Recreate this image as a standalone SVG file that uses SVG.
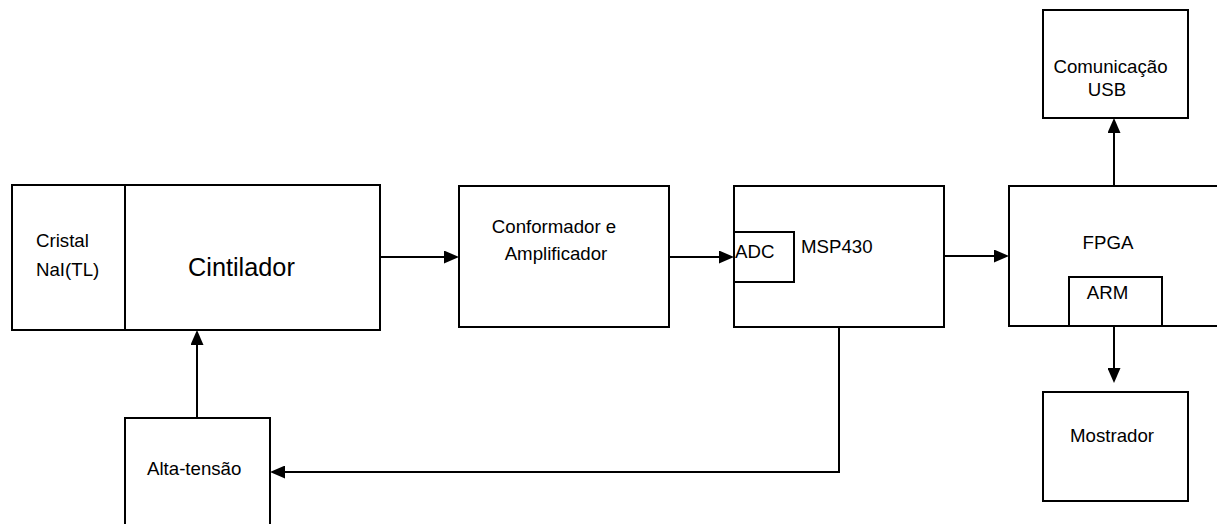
<svg xmlns="http://www.w3.org/2000/svg" width="1217" height="524" viewBox="0 0 1217 524">
<style>
.box{fill:#fff;stroke:#000;stroke-width:2}
.t{font-family:"Liberation Sans",Arial,sans-serif;font-size:18.67px;fill:#000}
.big{font-size:25.3px}
.c{stroke:#000;stroke-width:2;fill:none}
</style>
<defs>
<marker id="arr" viewBox="0 0 15 13" refX="7" refY="6.5" markerWidth="15" markerHeight="13" markerUnits="userSpaceOnUse" orient="auto">
<path d="M0,0 L15,6.5 L0,13 z" fill="#000"/>
</marker>
</defs>
<rect width="1217" height="524" fill="#fff"/>
<g id="cintilador">
<rect class="box" x="12" y="185" width="368" height="145"/>
<line class="c" x1="125" y1="185" x2="125" y2="330"/>
<text class="t" x="36" y="247">Cristal</text>
<text class="t" x="36" y="276">NaI(TL)</text>
<text class="t big" x="188" y="276">Cintilador</text>
</g>
<g id="conformador">
<rect class="box" x="459" y="186" width="210" height="141"/>
<text class="t" x="554" y="233" text-anchor="middle">Conformador e</text>
<text class="t" x="556" y="260" text-anchor="middle">Amplificador</text>
</g>
<g id="msp430">
<rect class="box" x="734" y="186" width="210" height="141"/>
<rect class="box" x="734" y="232" width="60" height="50"/>
<text class="t" x="735" y="258">ADC</text>
<text class="t" x="801" y="253">MSP430</text>
</g>
<g id="fpga">
<rect class="box" x="1009" y="186" width="230" height="140"/>
<rect class="box" x="1069" y="277" width="93" height="49"/>
<text class="t" x="1108" y="249" text-anchor="middle">FPGA</text>
<text class="t" x="1107.5" y="299" text-anchor="middle">ARM</text>
</g>
<g id="usb">
<rect class="box" x="1043" y="10" width="145" height="108"/>
<text class="t" x="1110.5" y="73" text-anchor="middle">Comunicação</text>
<text class="t" x="1107" y="96" text-anchor="middle">USB</text>
</g>
<g id="mostrador">
<rect class="box" x="1043" y="392" width="145" height="109"/>
<text class="t" x="1112" y="442" text-anchor="middle">Mostrador</text>
</g>
<g id="altatensao">
<rect class="box" x="125" y="418" width="145" height="120"/>
<text class="t" x="147" y="475">Alta-tensão</text>
</g>
<g id="connectors">
<line class="c" x1="380" y1="257" x2="451" y2="257" marker-end="url(#arr)"/>
<line class="c" x1="669" y1="257" x2="726" y2="257" marker-end="url(#arr)"/>
<line class="c" x1="944" y1="256" x2="1001" y2="256" marker-end="url(#arr)"/>
<line class="c" x1="1114" y1="186" x2="1114" y2="126" marker-end="url(#arr)"/>
<line class="c" x1="1114" y1="326" x2="1114" y2="375" marker-end="url(#arr)"/>
<line class="c" x1="197" y1="418" x2="197" y2="338" marker-end="url(#arr)"/>
<polyline class="c" points="839,327 839,472 278,472" marker-end="url(#arr)"/>
</g>
</svg>
